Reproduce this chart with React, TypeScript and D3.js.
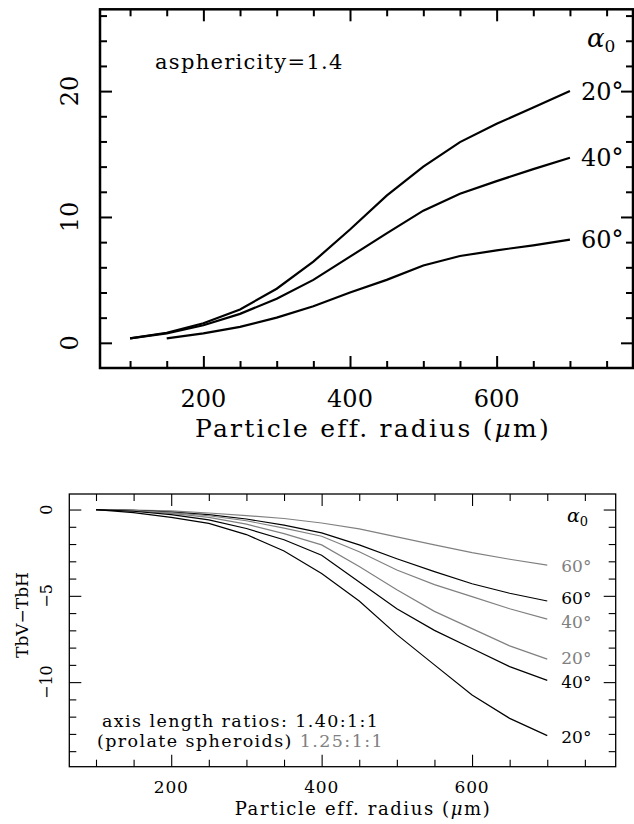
import React, { useEffect, useRef } from 'react';
import * as d3 from 'd3';

// particle effective radius (um), same grid for every curve
const radius = [100, 150, 200, 250, 300, 350, 400, 450, 500, 550, 600, 650, 700];

// top panel: asphericity = 1.4, one curve per alpha0
const top20 = [0.35, 0.8, 1.55, 2.65, 4.3, 6.45, 9.0, 11.7, 14.0, 15.95, 17.4, 18.7, 20.0];
const top40 = [0.35, 0.75, 1.4, 2.3, 3.5, 5.0, 6.85, 8.7, 10.5, 11.85, 12.85, 13.8, 14.7];
const top60 = [null, 0.35, 0.75, 1.27, 2.0, 2.9, 4.0, 5.0, 6.15, 6.9, 7.35, 7.75, 8.2];
const topLabels = ['20°', '40°', '60°'];

// bottom panel: TbV-TbH, prolate spheroids 1.40:1:1 (black) and 1.25:1:1 (grey)
const b140_20 = [0, -0.18, -0.45, -0.8, -1.45, -2.4, -3.7, -5.3, -7.25, -9.0, -10.75, -12.1, -13.1];
const b140_40 = [0, -0.1, -0.3, -0.6, -1.1, -1.75, -2.65, -4.2, -5.75, -7.0, -8.05, -9.1, -9.9];
const b140_60 = [0, -0.05, -0.15, -0.3, -0.55, -0.9, -1.35, -2.05, -2.85, -3.6, -4.3, -4.85, -5.3];
const b125_20 = [0, -0.08, -0.22, -0.45, -0.85, -1.4, -2.05, -3.3, -4.65, -5.9, -6.9, -7.9, -8.67];
const b125_40 = [0, -0.06, -0.18, -0.36, -0.65, -1.08, -1.55, -2.45, -3.5, -4.35, -5.05, -5.75, -6.35];
const b125_60 = [0, -0.03, -0.08, -0.2, -0.35, -0.52, -0.78, -1.12, -1.58, -2.05, -2.5, -2.88, -3.22];

const xMajor = [200, 400, 600];
const xMinor = [100, 150, 250, 300, 350, 450, 500, 550, 650, 700, 750];
const topYMajor = [0, 10, 20];
const topYMinor = [2, 4, 6, 8, 12, 14, 16, 18, 22, 24, 26];
const botYMajor = [0, -5, -10];
const botYMinor = [-1, -2, -3, -4, -6, -7, -8, -9, -11, -12, -13, -14];

const FONT = 'DejaVu Serif';
const GREY = '#808080';

function tickAxis(g, scale, orient, values, size, transform, sw) {
  const make = { bottom: d3.axisBottom, top: d3.axisTop, left: d3.axisLeft, right: d3.axisRight }[orient];
  const axis = make(scale).tickValues(values).tickSize(size).tickFormat(() => '');
  const a = g.append('g').attr('transform', transform).call(axis);
  a.select('.domain').remove();
  a.selectAll('line').attr('stroke', '#000').attr('stroke-width', sw);
}

function frameTicks(g, x, y, yMajor, yMinor, sw) {
  const [x0, x1] = x.range();
  const [y0, y1] = y.range();
  tickAxis(g, x, 'bottom', xMajor, -12, `translate(0,${y0})`, sw);
  tickAxis(g, x, 'bottom', xMinor, -7, `translate(0,${y0})`, sw);
  tickAxis(g, x, 'top', xMajor, -12, `translate(0,${y1})`, sw);
  tickAxis(g, x, 'top', xMinor, -7, `translate(0,${y1})`, sw);
  tickAxis(g, y, 'left', yMajor, -12, `translate(${x0},0)`, sw);
  tickAxis(g, y, 'left', yMinor, -7, `translate(${x0},0)`, sw);
  tickAxis(g, y, 'right', yMajor, -12, `translate(${x1},0)`, sw);
  tickAxis(g, y, 'right', yMinor, -7, `translate(${x1},0)`, sw);
}

function radiusTitle(g, x, y, size, spacing) {
  const t = g.append('text')
    .attr('x', x).attr('y', y).attr('text-anchor', 'middle')
    .attr('font-family', FONT).attr('font-size', size)
    .attr('letter-spacing', spacing);
  t.append('tspan').text('Particle eff. radius (');
  t.append('tspan').attr('font-style', 'italic').text('μ');
  t.append('tspan').text('m)');
}

function drawTop(svg) {
  const g = svg.append('g');
  const x = d3.scaleLinear().domain([59, 786]).range([100, 633]);
  const y = d3.scaleLinear().domain([-2, 26.5]).range([368, 9.3]);

  const line = d3.line()
    .defined(d => d[1] != null)
    .x(d => x(d[0]))
    .y(d => y(d[1]));

  [top20, top40, top60].forEach((vals, i) => {
    const pts = radius.map((r, j) => [r, vals[j]]);
    g.append('path').attr('d', line(pts))
      .attr('fill', 'none').attr('stroke', '#000').attr('stroke-width', 2.2);
    g.append('text')
      .attr('x', x(700) + 11).attr('y', y(vals[vals.length - 1]))
      .attr('dy', '0.35em')
      .attr('font-family', FONT).attr('font-size', 24)
      .text(topLabels[i]);
  });

  g.append('rect')
    .attr('x', 100).attr('y', 9.3).attr('width', 533).attr('height', 368 - 9.3)
    .attr('fill', 'none').attr('stroke', '#000').attr('stroke-width', 2.5);
  frameTicks(g, x, y, topYMajor, topYMinor, 2);

  g.selectAll('.xl').data(xMajor).enter().append('text')
    .attr('x', d => x(d)).attr('y', 407)
    .attr('text-anchor', 'middle')
    .attr('font-family', FONT).attr('font-size', 24)
    .text(d => d);

  g.selectAll('.yl').data(topYMajor).enter().append('text')
    .attr('transform', d => `translate(70,${y(d)}) rotate(-90)`)
    .attr('text-anchor', 'middle').attr('dy', '0.35em')
    .attr('font-family', FONT).attr('font-size', 24)
    .text(d => d);

  radiusTitle(g, 373, 437, 25, 2.2);

  g.append('text')
    .attr('x', 155).attr('y', 69)
    .attr('font-family', FONT).attr('font-size', 21)
    .attr('letter-spacing', 1.3)
    .text('asphericity=1.4');

  const a = g.append('text')
    .attr('x', 587).attr('y', 47)
    .attr('font-family', FONT).attr('font-size', 26).attr('font-style', 'italic');
  a.append('tspan').text('α');
  a.append('tspan').attr('font-size', 17).attr('font-style', 'normal').attr('dy', 5).text('0');
}

function drawBottom(svg) {
  const g = svg.append('g');
  const x = d3.scaleLinear().domain([64.5, 791]).range([69.3, 615.7]);
  const y = d3.scaleLinear().domain([-14.9, 0.9]).range([766.7, 494]);

  const line = d3.line()
    .x(d => x(d[0]))
    .y(d => y(d[1]));

  const series = [
    { vals: b125_60, color: GREY, label: '60°', dy: 1 },
    { vals: b140_60, color: '#000', label: '60°', dy: -3 },
    { vals: b125_40, color: GREY, label: '40°', dy: 3 },
    { vals: b125_20, color: GREY, label: '20°', dy: -1 },
    { vals: b140_40, color: '#000', label: '40°', dy: 2 },
    { vals: b140_20, color: '#000', label: '20°', dy: 1 },
  ];

  series.forEach(s => {
    const pts = radius.map((r, j) => [r, s.vals[j]]);
    g.append('path').attr('d', line(pts))
      .attr('fill', 'none').attr('stroke', s.color).attr('stroke-width', 1.2);
    g.append('text')
      .attr('x', x(700) + 14).attr('y', y(s.vals[s.vals.length - 1]) + s.dy)
      .attr('dy', '0.35em')
      .attr('font-family', FONT).attr('font-size', 17)
      .attr('fill', s.color)
      .text(s.label);
  });

  g.append('rect')
    .attr('x', 69.3).attr('y', 494).attr('width', 615.7 - 69.3).attr('height', 766.7 - 494)
    .attr('fill', 'none').attr('stroke', '#000').attr('stroke-width', 1.3);
  frameTicks(g, x, y, botYMajor, botYMinor, 1.1);

  g.selectAll('.xl').data(xMajor).enter().append('text')
    .attr('x', d => x(d)).attr('y', 793)
    .attr('text-anchor', 'middle')
    .attr('font-family', FONT).attr('font-size', 17)
    .attr('letter-spacing', 0.8)
    .text(d => d);

  g.selectAll('.yl').data(botYMajor).enter().append('text')
    .attr('transform', d => `translate(46,${y(d)}) rotate(-90)`)
    .attr('text-anchor', 'middle').attr('dy', '0.35em')
    .attr('font-family', FONT).attr('font-size', 16)
    .text(d => (d < 0 ? '−' + Math.abs(d) : d));

  radiusTitle(g, 363, 815, 18, 1.6);

  g.append('text')
    .attr('transform', 'translate(22,615) rotate(-90)')
    .attr('text-anchor', 'middle').attr('dy', '0.35em')
    .attr('font-family', FONT).attr('font-size', 17)
    .text('TbV−TbH');

  g.append('text')
    .attr('x', 102).attr('y', 727)
    .attr('font-family', FONT).attr('font-size', 17.5)
    .attr('letter-spacing', 1.4)
    .text('axis length ratios: 1.40:1:1');
  const t2 = g.append('text')
    .attr('x', 97).attr('y', 747)
    .attr('font-family', FONT).attr('font-size', 17.5)
    .attr('letter-spacing', 1.4);
  t2.append('tspan').text('(prolate spheroids) ');
  t2.append('tspan').attr('fill', GREY).text('1.25:1:1');

  const a = g.append('text')
    .attr('x', 567).attr('y', 522)
    .attr('font-family', FONT).attr('font-size', 19).attr('font-style', 'italic');
  a.append('tspan').text('α');
  a.append('tspan').attr('font-size', 13).attr('font-style', 'normal').attr('dy', 4).text('0');
}

export default function App() {
  const ref = useRef(null);

  useEffect(() => {
    const svg = d3.select(ref.current);
    svg.selectAll('*').remove();
    drawTop(svg);
    drawBottom(svg);
  }, []);

  return (
    <svg
      ref={ref}
      width={634}
      height={824}
      style={{ position: 'absolute', left: 0, top: 0, background: '#fff' }}
    />
  );
}
